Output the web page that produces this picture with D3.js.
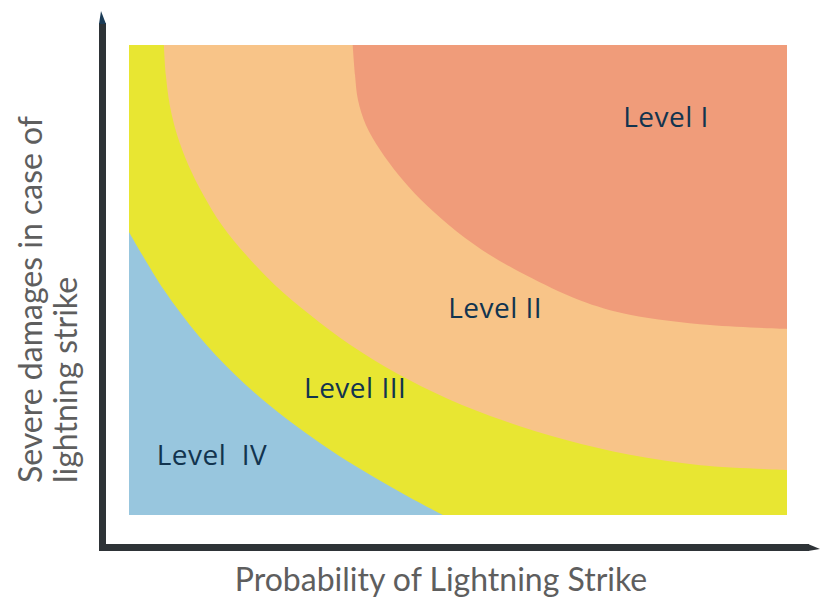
<!DOCTYPE html>
<html>
<head>
<meta charset="utf-8">
<script src="https://cdn.jsdelivr.net/npm/d3@7"></script>
<style>
  body { margin: 0; background: #fff; }
  svg { display: block; }
</style>
</head>
<body>
<div id="chart"></div>
<script>
// boundary curves, in percent of each axis (0 = bottom/left, 100 = top/right)
var levelIV_III = [
  [0, 60.2], [5.3, 47.9], [10.6, 38.1], [16.0, 30.0], [21.3, 23.4], [26.6, 17.7],
  [31.9, 12.6], [37.2, 8.1], [42.6, 3.8], [47.7, 0]
];
var levelIII_II = [
  [5.3, 100], [5.6, 93.6], [6.2, 87.2], [7.3, 80.9], [9.0, 74.5], [11.3, 68.1],
  [14.1, 61.7], [17.8, 55.3], [22.2, 48.9], [27.5, 42.6], [33.6, 36.2], [40.6, 30.2],
  [48.5, 24.7], [57.1, 20.0], [66.3, 16.0], [76.1, 12.8], [86.8, 10.6], [100, 9.6]
];
var levelII_I = [
  [34.0, 100], [34.35, 93.6], [34.8, 88.3], [36.0, 83.0], [38.15, 77.7], [41.0, 72.3],
  [44.4, 67.0], [48.6, 61.7], [53.65, 56.4], [60.2, 51.1], [68.5, 45.7], [76.1, 42.6],
  [88.3, 40.4], [100, 39.6]
];

var levels = ["Level I", "Level II", "Level III", "Level  IV"];
var levelColors = ["#f09c7a", "#f8c488", "#e8e632", "#98c6de"];
// label anchor (left, baseline) in the same percent units
var labelPos = [[75.1, 82.6], [48.5, 41.9], [26.6, 24.9], [4.2, 10.6]];

var xTitle = "Probability of Lightning Strike";
var yTitle = ["Severe damages in case of", "lightning strike"];

var W = 820, H = 597;
var plot = { left: 129, top: 45, right: 787, bottom: 515 };

var x = d3.scaleLinear().domain([0, 100]).range([plot.left, plot.right]);
var y = d3.scaleLinear().domain([0, 100]).range([plot.bottom, plot.top]);

var svg = d3.select("#chart").append("svg")
  .attr("width", W)
  .attr("height", H);

svg.append("clipPath").attr("id", "clip")
  .append("rect")
  .attr("x", plot.left).attr("y", plot.top)
  .attr("width", plot.right - plot.left)
  .attr("height", plot.bottom - plot.top);

var g = svg.append("g").attr("clip-path", "url(#clip)");

// Level I fills the whole box, the others are painted over it
g.append("rect")
  .attr("x", plot.left).attr("y", plot.top)
  .attr("width", plot.right - plot.left)
  .attr("height", plot.bottom - plot.top)
  .style("fill", levelColors[0]);

var line = d3.line()
  .x(function(d) { return x(d[0]); })
  .y(function(d) { return y(d[1]); })
  .curve(d3.curveCatmullRom.alpha(0.5));

// each region: the curve, then down to the bottom-left corner and back up the left side
function region(pts) {
  var last = pts[pts.length - 1];
  var d = line(pts);
  d += "L" + x(last[0]) + "," + y(0);
  d += "L" + x(0) + "," + y(0);
  if (pts[0][0] > 0) d += "L" + x(0) + "," + y(100);
  return d + "Z";
}

[levelII_I, levelIII_II, levelIV_III].forEach(function(pts, i) {
  g.append("path")
    .attr("d", region(pts))
    .style("fill", levelColors[i + 1]);
});

// level labels
svg.selectAll("text.level")
  .data(levels)
  .enter().append("text")
  .attr("class", "level")
  .attr("x", function(d, i) { return x(labelPos[i][0]); })
  .attr("y", function(d, i) { return y(labelPos[i][1]); })
  .style("font-family", "'Open Sans', sans-serif")
  .style("font-size", "28px")
  .style("letter-spacing", "0.5px")
  .style("fill", "#12344f")
  .style("white-space", "pre")
  .text(function(d) { return d; });

// axes: thick lines with small arrow tips, no ticks
var axisColor = "#2e3337";
svg.append("line")
  .attr("x1", 102.5).attr("y1", 551)
  .attr("x2", 102.5).attr("y2", 23)
  .style("stroke", axisColor).style("stroke-width", 7);
svg.append("path")
  .attr("d", "M99,24L106,24L101,11Z")
  .style("fill", "#1c3c57");

svg.append("line")
  .attr("x1", 99).attr("y1", 547.5)
  .attr("x2", 809).attr("y2", 547.5)
  .style("stroke", axisColor).style("stroke-width", 7);
svg.append("path")
  .attr("d", "M808,544L808,551L820,549Z")
  .style("fill", axisColor);

// axis titles
svg.append("text")
  .attr("x", 441)
  .attr("y", 591)
  .attr("text-anchor", "middle")
  .style("font-family", "Lato, sans-serif")
  .style("font-size", "32px")
  .style("fill", "#5e5e5e")
  .text(xTitle);

svg.selectAll("text.ytitle")
  .data(yTitle)
  .enter().append("text")
  .attr("class", "ytitle")
  .attr("transform", function(d, i) { return "translate(" + (42 + i * 35) + ",483) rotate(-90)"; })
  .style("font-family", "Lato, sans-serif")
  .style("font-size", "32px")
  .style("fill", "#5e5e5e")
  .text(function(d) { return d; });
</script>
</body>
</html>
